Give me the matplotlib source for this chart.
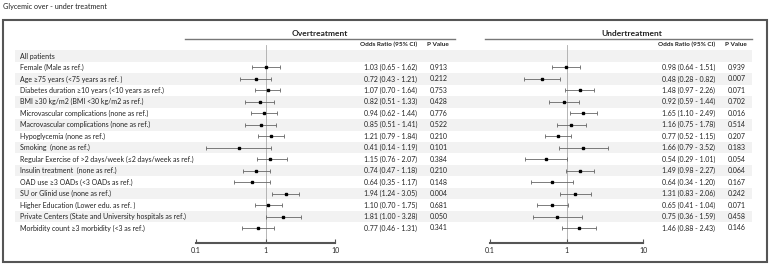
import numpy as np
import matplotlib
matplotlib.use("Agg")
from matplotlib import pyplot as plt
from matplotlib.patches import Rectangle

plt.rcParams["font.family"] = ["Lato", "DejaVu Sans"]

labels = [
    "All patients",
    "Female (Male as ref.)",
    "Age \u226575 years (<75 years as ref. )",
    "Diabetes duration \u226510 years (<10 years as ref.)",
    "BMI \u226530 kg/m2 (BMI <30 kg/m2 as ref.)",
    "Microvascular complications (none as ref.)",
    "Macrovascular complications (none as ref.)",
    "Hypoglycemia (none as ref.)",
    "Smoking  (none as ref.)",
    "Regular Exercise of >2 days/week (\u22642 days/week as ref.)",
    "Insulin treatment  (none as ref.)",
    "OAD use \u22653 OADs (<3 OADs as ref.)",
    "SU or Glinid use (none as ref.)",
    "Higher Education (Lower edu. as ref. )",
    "Private Centers (State and University hospitals as ref.)",
    "Morbidity count \u22653 morbidity (<3 as ref.)",
]

# overtreatment (rows 1..15)
over_or = [1.03, 0.72, 1.07, 0.82, 0.94, 0.85, 1.21, 0.41, 1.15, 0.74, 0.64, 1.94, 1.10, 1.81, 0.77]
over_lo = [0.65, 0.43, 0.70, 0.51, 0.62, 0.51, 0.79, 0.14, 0.76, 0.47, 0.35, 1.24, 0.70, 1.00, 0.46]
over_hi = [1.62, 1.21, 1.64, 1.33, 1.44, 1.41, 1.84, 1.19, 2.07, 1.18, 1.17, 3.05, 1.75, 3.28, 1.31]
over_p = ["0.913", "0.212", "0.753", "0.428", "0.776", "0.522", "0.210", "0.101",
          "0.384", "0.210", "0.148", "0.004", "0.681", "0.050", "0.341"]

# undertreatment
under_or = [0.98, 0.48, 1.48, 0.92, 1.65, 1.16, 0.77, 1.66, 0.54, 1.49, 0.64, 1.31, 0.65, 0.75, 1.46]
under_lo = [0.64, 0.28, 0.97, 0.59, 1.10, 0.75, 0.52, 0.79, 0.29, 0.98, 0.34, 0.83, 0.41, 0.36, 0.88]
under_hi = [1.51, 0.82, 2.26, 1.44, 2.49, 1.78, 1.15, 3.52, 1.01, 2.27, 1.20, 2.06, 1.04, 1.59, 2.43]
under_p = ["0.939", "0.007", "0.071", "0.702", "0.016", "0.514", "0.207", "0.183",
           "0.054", "0.064", "0.167", "0.242", "0.071", "0.458", "0.146"]

W, H = 772, 265
fig = plt.figure(figsize=(W / 100, H / 100), dpi=100)

# background axes in pixel units
bg = fig.add_axes([0, 0, 1, 1])
bg.set_xlim(0, W)
bg.set_ylim(H, 0)
bg.axis("off")

y0, dy = 56, (228 - 56) / 15
rows_y = y0 + dy * np.arange(len(labels))
fs = 5.0
txt_col = "#222222"

bg.text(3, 7, "Glycemic over - under treatment", fontsize=5.2, va="center", color=txt_col)
bg.add_patch(Rectangle((3, 20), 764, 242, fill=False, ec="#555555", lw=1.5))

for i, y in enumerate(rows_y):
    if i % 2 == 0:
        bg.add_patch(Rectangle((15, y - dy / 2), 737, dy, fc="#f2f2f2", ec="none", zorder=0))
    bg.text(20, y, labels[i], fontsize=fs, va="center", color=txt_col)

# header lines and titles
bg.plot([185, 455], [38.5, 38.5], color="#777777", lw=1)
bg.plot([485, 752], [38.5, 38.5], color="#777777", lw=1)
bg.text(320, 33, "Overtreatment", fontsize=6, fontweight="bold", ha="center", va="center", color=txt_col)
bg.text(632, 33, "Undertreatment", fontsize=6, fontweight="bold", ha="center", va="center", color=txt_col)
for x, t in [(360, "Odds Ratio (95% CI)"), (427, "P Value"), (658, "Odds Ratio (95% CI)"), (725, "P Value")]:
    bg.text(x, 44, t, fontsize=4.6, fontweight="bold", va="center", color=txt_col)

# table values
for k in range(len(over_or)):
    y = rows_y[k + 1]
    bg.text(364, y, f"{over_or[k]:.2f} ({over_lo[k]:.2f} - {over_hi[k]:.2f})", fontsize=fs, va="center", color=txt_col)
    bg.text(430, y, over_p[k], fontsize=fs, va="center", color=txt_col)
    bg.text(662, y, f"{under_or[k]:.2f} ({under_lo[k]:.2f} - {under_hi[k]:.2f})", fontsize=fs, va="center", color=txt_col)
    bg.text(728, y, under_p[k], fontsize=fs, va="center", color=txt_col)


def forest(x_left, x_right, est, lo, hi):
    top, bot = 45, 243
    ax = fig.add_axes([x_left / W, 1 - bot / H, (x_right - x_left) / W, (bot - top) / H])
    ax.set_facecolor("none")
    ax.set_xscale("log")
    ax.set_xlim(0.1, 10)
    ax.set_ylim(bot, top)
    est = np.array(est)
    err = [est - np.array(lo), np.array(hi) - est]
    ax.axvline(1, color="#aaaaaa", lw=0.6, zorder=1)
    ax.errorbar(est, rows_y[1:], xerr=err, fmt="s", color="black", ms=1.6,
                ecolor="#666666", elinewidth=0.6, capsize=1.3, capthick=0.6, zorder=3)
    for s in ["top", "left", "right"]:
        ax.spines[s].set_visible(False)
    ax.spines["bottom"].set_color("#555555")
    ax.spines["bottom"].set_linewidth(1.5)
    ax.set_yticks([])
    ax.set_xticks([0.1, 1, 10])
    ax.set_xticklabels(["0.1", "1", "10"])
    ax.xaxis.set_minor_locator(matplotlib.ticker.NullLocator())
    ax.tick_params(axis="x", direction="in", length=3, width=0.8, color="#555555",
                   labelsize=5, labelcolor=txt_col, pad=3)
    return ax


forest(196, 335, over_or, over_lo, over_hi)
forest(490, 643, under_or, under_lo, under_hi)

fig.savefig("out.png", dpi=100)
